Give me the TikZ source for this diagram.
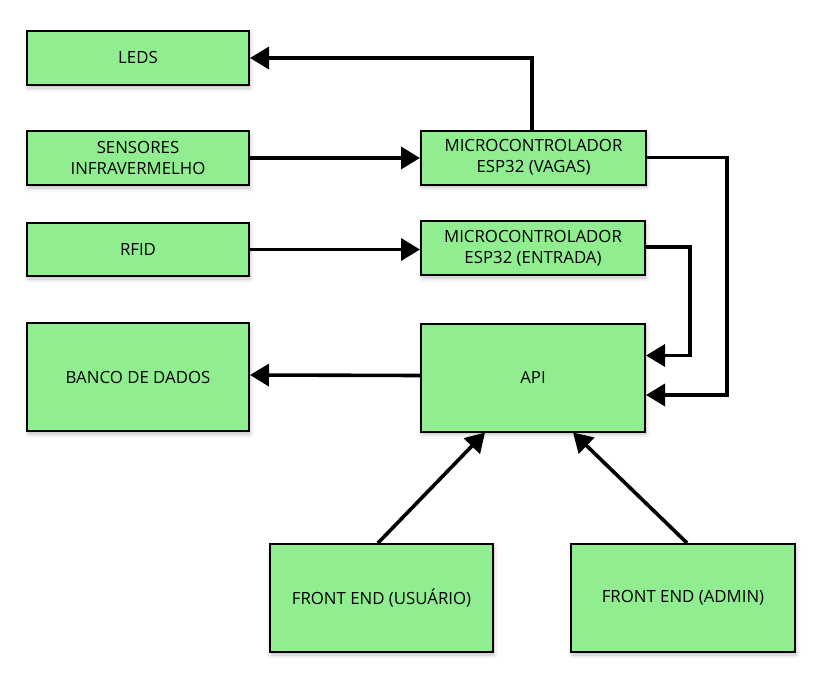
\documentclass[tikz,border=0pt]{standalone}
\usepackage{fontspec}
\setmainfont{Open Sans}
\usetikzlibrary{arrows.meta,shadows.blur}
\definecolor{boxgreen}{HTML}{90EE90}
\begin{document}
\begin{tikzpicture}[x=1pt,y=-1pt,
  block/.style={draw=black, line width=2pt, fill=boxgreen,
    blur shadow={shadow xshift=1pt, shadow yshift=-3pt, shadow blur radius=4pt, shadow opacity=25},
    align=center, inner sep=0pt, font=\fontsize{16.8}{21}\selectfont},
  link/.style={line width=3.6pt, -{Triangle[length=19pt,width=22pt]}},
]
\useasboundingbox (0,0) rectangle (825,677);

% left column
\node[block, minimum width=222pt, minimum height=54pt]  (leds)     at (138,58)    {LEDS};
\node[block, minimum width=222pt, minimum height=54pt]  (sensores) at (138,158)   {SENSORES\\INFRAVERMELHO};
\node[block, minimum width=222pt, minimum height=53pt]  (rfid)     at (138,249.5) {RFID};
\node[block, minimum width=222pt, minimum height=108pt] (banco)    at (138,377)   {BANCO DE DADOS};

% controllers and API
\node[block, minimum width=225pt, minimum height=54pt]  (vagas)    at (533.5,157.5) {MICROCONTROLADOR\\ESP32 (VAGAS)};
\node[block, minimum width=224pt, minimum height=54pt]  (entrada)  at (533,248)     {MICROCONTROLADOR\\ESP32 (ENTRADA)};
\node[block, minimum width=224pt, minimum height=108pt] (api)      at (533,377.5)   {API};

% front ends
\node[block, minimum width=223pt, minimum height=108pt] (user)     at (381.5,598) {FRONT END (USUÁRIO)};
\node[block, minimum width=224pt, minimum height=108pt] (admin)    at (683,598)   {FRONT END (ADMIN)};

% connectors
\draw[link] ([xshift=-1.5pt]vagas.north) |- (leds.east);
\draw[link] (sensores.east) -- (sensores.east -| vagas.west);
\draw[link] (rfid.east) -- (rfid.east -| entrada.west);
\draw[link] (vagas.east) -- ++(80,0) |- ([yshift=-17.5pt]api.east);
\draw[link] ([yshift=1pt]entrada.east) -- ++(44,0) |- ([yshift=22pt]api.east);
\draw[link] ([yshift=2pt]api.west) -- ([yshift=2pt]banco.east);
\draw[link] ([xshift=-3.5pt]user.north) -- ([xshift=-48pt]api.south);
\draw[link] ([xshift=4pt]admin.north) -- ([xshift=40pt]api.south);
\end{tikzpicture}
\end{document}
